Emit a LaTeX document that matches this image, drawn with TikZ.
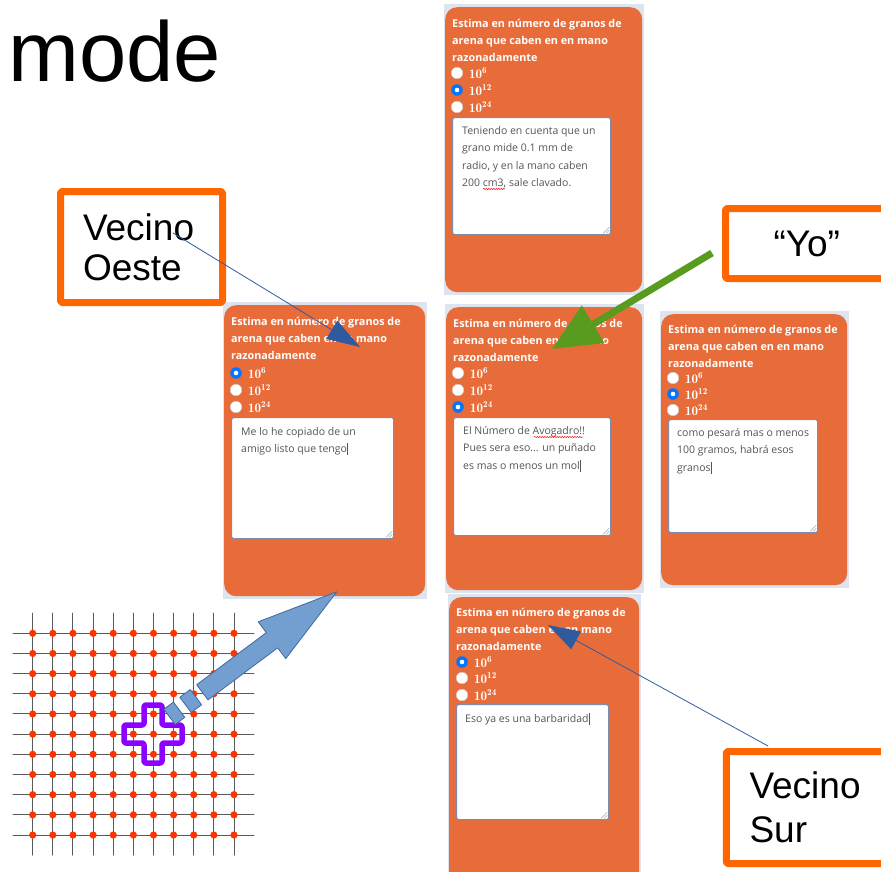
\documentclass[tikz,border=0pt]{standalone}
\usepackage{fontspec}
\newfontfamily\arial{Liberation Sans}
\newfontfamily\opensans{Open Sans}
\usetikzlibrary{arrows.meta,decorations.pathmorphing}
\definecolor{naranja}{RGB}{232,108,57}
\definecolor{fondo}{RGB}{221,228,238}
\definecolor{borde}{RGB}{255,102,0}
\definecolor{azulradio}{RGB}{0,117,255}
\definecolor{azulflecha}{RGB}{47,90,160}
\definecolor{verde}{RGB}{88,155,31}
\definecolor{morado}{RGB}{140,0,255}
\definecolor{rojo}{RGB}{255,51,0}
\definecolor{bloque}{RGB}{114,159,207}
\definecolor{bloqueborde}{RGB}{65,105,160}
\definecolor{gristexto}{RGB}{85,85,85}
\definecolor{bordearea}{RGB}{125,140,170}
\definecolor{gristrazo}{RGB}{90,90,90}
\newcommand\pregunta{Estima en número de granos de\\arena que caben en en mano\\razonadamente}
\newcommand\cursor{\rule[-2.5pt]{0.6pt}{12pt}}
\newcommand\pot[1]{$\mathbf{10}^{\mathbf{#1}}$}
\tikzset{
  tarjeta/.style={fill=naranja, rounded corners=12pt, inner sep=0pt, anchor=north west},
  titulo/.style={text=white, align=left, inner sep=0pt, anchor=north west, font=\opensans\bfseries\fontsize{10.8}{17}\selectfont},
  boton/.style={circle, draw=gray!40, fill=white, minimum size=11.5pt, inner sep=0pt},
  marcado/.style={circle, fill=azulradio, minimum size=11.5pt, inner sep=0pt},
  potencia/.style={anchor=west, text=white, inner sep=0pt, font=\fontsize{13}{14}\selectfont},
  areatexto/.style={draw=bordearea, fill=white, line width=1.2pt, rounded corners=2pt, inner sep=0pt, anchor=north west},
  respuesta/.style={text=gristexto, align=left, inner sep=0pt, anchor=north west, font=\opensans\fontsize{10.5}{17.5}\selectfont},
  ortografia/.style={draw=red, line width=0.5pt, decorate, decoration={snake, amplitude=0.6pt, segment length=2.5pt}},
  agarre/.style={draw=gray!70, line width=0.5pt},
  etiqueta/.style={draw=borde, fill=white, line width=7pt, rounded corners=2pt, inner sep=0pt, align=left, font=\arial\fontsize{37}{40}\selectfont},
  reja/.style={draw=gristrazo, line width=1pt},
  bloquef/.style={fill=bloque, draw=bloqueborde, line width=0.8pt, line join=round},
}
\begin{document}
\begin{tikzpicture}[x=1pt, y=-1pt, line join=round, line cap=round]
  \useasboundingbox (0,0) rectangle (881,872);
  \clip (0,0) rectangle (881,872);
  \node[anchor=base west, inner sep=0pt, font=\arial\fontsize{85}{85}\selectfont] (modo) at (8,82) {mode};
  % tarjeta superior
  \begin{scope}[shift={(445,7)}]
    \fill[fondo] (-1.5,-3) rectangle (198.5,288);
    \node[tarjeta, minimum width=197, minimum height=285] (tarjetaSup) at (0,0) {};
    \node[titulo] (tarjetaSup-tit) at (7,12) {\pregunta};
    \node[boton] (tarjetaSup-r1) at (12,66) {};
    \node[marcado] (tarjetaSup-r2) at (12,83) {};
    \node[boton] (tarjetaSup-r3) at (12,100) {};
    \fill[white] (tarjetaSup-r2) circle (2.3pt);
    \node[potencia] (tarjetaSup-n1) at (24,66) {\pot{6}};
    \node[potencia] (tarjetaSup-n2) at (24,83) {\pot{12}};
    \node[potencia] (tarjetaSup-n3) at (24,100) {\pot{24}};
    \node[areatexto, minimum width=158, minimum height=117] (tarjetaSup-area) at (7,110) {};
    \node[respuesta] (tarjetaSup-resp) at (17,119) {Teniendo en cuenta que un\\grano mide 0.1 mm de\\radio, y en la mano caben\\200 cm3, sale clavado.};
    \draw[ortografia] (38,182) -- (60,182);
  \end{scope}
  % tarjeta oeste
  \begin{scope}[shift={(224,305)}]
    \fill[fondo] (-1.5,-3) rectangle (202.5,294);
    \node[tarjeta, minimum width=201, minimum height=291] (tarjetaOeste) at (0,0) {};
    \node[titulo] (tarjetaOeste-tit) at (7,12) {\pregunta};
    \node[marcado] (tarjetaOeste-r1) at (12,68) {};
    \node[boton] (tarjetaOeste-r2) at (12,85) {};
    \node[boton] (tarjetaOeste-r3) at (12,102) {};
    \fill[white] (tarjetaOeste-r1) circle (2.3pt);
    \node[potencia] (tarjetaOeste-n1) at (24,68) {\pot{6}};
    \node[potencia] (tarjetaOeste-n2) at (24,85) {\pot{12}};
    \node[potencia] (tarjetaOeste-n3) at (24,102) {\pot{24}};
    \node[areatexto, minimum width=162, minimum height=121] (tarjetaOeste-area) at (7,112) {};
    \node[respuesta] (tarjetaOeste-resp) at (17,122) {Me lo he copiado de un\\amigo listo que tengo\cursor};
  \end{scope}
  % tarjeta centro
  \begin{scope}[shift={(446,307)}]
    \fill[fondo] (-1.5,-3) rectangle (197.5,286);
    \node[tarjeta, minimum width=196, minimum height=283] (tarjetaCentro) at (0,0) {};
    \node[titulo] (tarjetaCentro-tit) at (7,12) {\pregunta};
    \node[boton] (tarjetaCentro-r1) at (12,66) {};
    \node[boton] (tarjetaCentro-r2) at (12,83) {};
    \node[marcado] (tarjetaCentro-r3) at (12,100) {};
    \fill[white] (tarjetaCentro-r3) circle (2.3pt);
    \node[potencia] (tarjetaCentro-n1) at (24,66) {\pot{6}};
    \node[potencia] (tarjetaCentro-n2) at (24,83) {\pot{12}};
    \node[potencia] (tarjetaCentro-n3) at (24,100) {\pot{24}};
    \node[areatexto, minimum width=157, minimum height=118] (tarjetaCentro-area) at (7,110) {};
    \node[respuesta] (tarjetaCentro-resp) at (17,119) {El Número de Avogadro!!\\Pues sera eso... un puñado\\es mas o menos un mol\cursor};
    \draw[ortografia] (88,130) -- (137,130);
  \end{scope}
  % tarjeta este
  \begin{scope}[shift={(661,314)}]
    \fill[fondo] (-1.5,-3) rectangle (187.5,274);
    \node[tarjeta, minimum width=186, minimum height=271] (tarjetaEste) at (0,0) {};
    \node[titulo] (tarjetaEste-tit) at (7,11) {\pregunta};
    \node[boton] (tarjetaEste-r1) at (12,64) {};
    \node[marcado] (tarjetaEste-r2) at (12,80) {};
    \node[boton] (tarjetaEste-r3) at (12,96) {};
    \fill[white] (tarjetaEste-r2) circle (2.3pt);
    \node[potencia] (tarjetaEste-n1) at (24,64) {\pot{6}};
    \node[potencia] (tarjetaEste-n2) at (24,80) {\pot{12}};
    \node[potencia] (tarjetaEste-n3) at (24,96) {\pot{24}};
    \node[areatexto, minimum width=149, minimum height=113] (tarjetaEste-area) at (7,105) {};
    \node[respuesta] (tarjetaEste-resp) at (16,114) {como pesará mas o menos\\100 gramos, habrá esos\\granos\cursor};
  \end{scope}
  % tarjeta sur
  \begin{scope}[shift={(449,597)}]
    \fill[fondo] (-1.5,-3) rectangle (191.5,290);
    \node[tarjeta, minimum width=190, minimum height=290] (tarjetaSur) at (0,0) {};
    \node[titulo] (tarjetaSur-tit) at (7,11) {\pregunta};
    \node[marcado] (tarjetaSur-r1) at (13,65) {};
    \node[boton] (tarjetaSur-r2) at (13,81) {};
    \node[boton] (tarjetaSur-r3) at (13,98) {};
    \fill[white] (tarjetaSur-r1) circle (2.3pt);
    \node[potencia] (tarjetaSur-n1) at (25,65) {\pot{6}};
    \node[potencia] (tarjetaSur-n2) at (25,81) {\pot{12}};
    \node[potencia] (tarjetaSur-n3) at (25,98) {\pot{24}};
    \node[areatexto, minimum width=152, minimum height=115] (tarjetaSur-area) at (7,107) {};
    \node[respuesta] (tarjetaSur-resp) at (16,116) {Eso ya es una barbaridad\cursor};
  \end{scope}
  \foreach \t in {tarjetaSup,tarjetaOeste,tarjetaCentro,tarjetaEste,tarjetaSur}{
    \draw[agarre] ([shift={(-8,-2)}]\t-area.south east) -- ([shift={(-2,-8)}]\t-area.south east);
    \draw[agarre] ([shift={(-5,-2)}]\t-area.south east) -- ([shift={(-2,-5)}]\t-area.south east);
  }
  % red
  \foreach \j in {0,...,10}{
    \draw[reja] (13,633.3+20.17*\j) -- (254,633.3+20.17*\j);
    \draw[reja] (32.7+20.13*\j,613) -- (32.7+20.13*\j,855);
  }
  \foreach \i in {0,...,10}{
    \foreach \j in {0,...,10}{
      \fill[rojo] (32.7+20.13*\i,633.3+20.17*\j) circle (3.6pt);
    }
  }
  \draw[morado, line width=5.5pt, rounded corners=2pt] (144,705) -- ++(18,0) -- ++(0,20) -- ++(20,0)
    -- ++(0,18) -- ++(-20,0) -- ++(0,20) -- ++(-18,0) -- ++(0,-20) -- ++(-20,0) -- ++(0,-18) -- ++(20,0) -- cycle;
  \begin{scope}[shift={(174.3,713.3)}, rotate=36.8]
    \filldraw[bloquef] (-6,-9.5) rectangle (6,9.5);
    \filldraw[bloquef] (14,-9.5) rectangle (27,9.5);
    \filldraw[bloquef] (35,-9.5) -- (122,-9.5) -- (122,-23) -- (203,0) -- (122,23) -- (122,9.5) -- (35,9.5) -- cycle;
  \end{scope}
  % vecinos
  \node[etiqueta, minimum width=162, minimum height=111, text width=117] (oeste) at (141.5,247) {Vecino\\Oeste};
  \node[etiqueta, minimum width=162.5, minimum height=70] (yo) at (806.75,243.5) {“Yo”};
  \node[etiqueta, minimum width=161.5, minimum height=112, text width=115, font=\arial\fontsize{37}{44}\selectfont] (sur) at (807,807.5) {Vecino\\Sur};
  \coordinate (puntaOeste) at (360,347);
  \coordinate (puntaYo) at (552,349);
  \coordinate (puntaSur) at (548,625);
  \draw[azulflecha, line width=0.8pt, -{Triangle[length=33pt,width=21pt]}] ([shift={(31.5,-14)}]oeste.center) -- (puntaOeste);
  \draw[verde, line width=7pt, line cap=butt, -{Triangle[length=48pt,width=42pt]}] ([shift={(-10,9.5)}]yo.west) -- (puntaYo);
  \draw[azulflecha, line width=0.8pt, -{Triangle[length=32pt,width=20pt]}] ([shift={(-39,-2)}]sur.north) -- (puntaSur);
\end{tikzpicture}
\end{document}
